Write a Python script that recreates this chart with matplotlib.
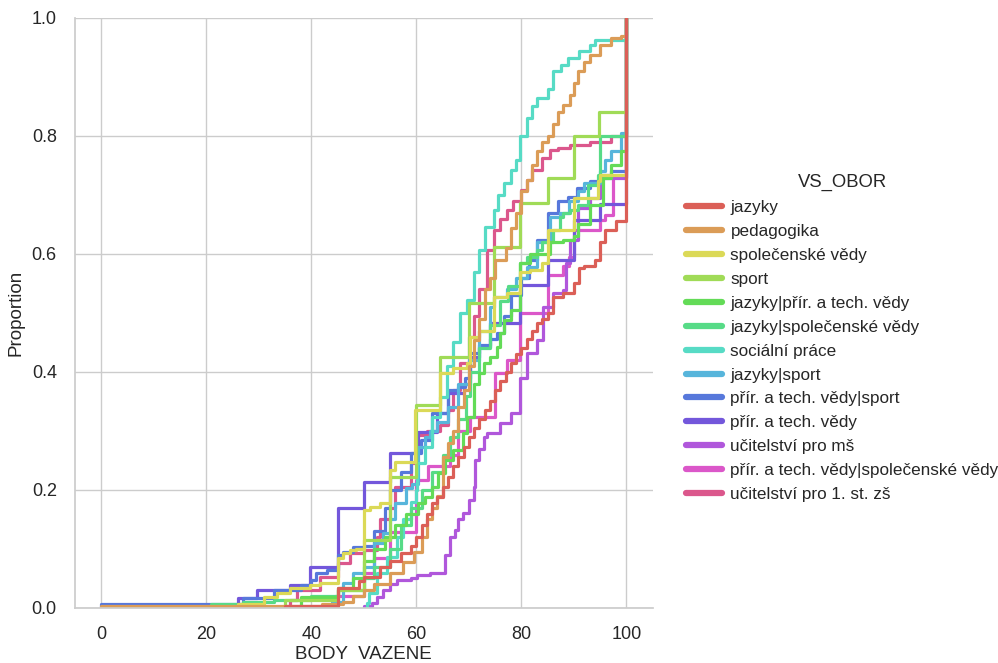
import numpy as np
import matplotlib
matplotlib.use("Agg")
import matplotlib.pyplot as plt
from matplotlib.lines import Line2D
import seaborn as sns

# ECDF step points: score -> cumulative proportion
obory = ['jazyky', 'pedagogika', 'společenské vědy', 'sport',
         'jazyky|přír. a tech. vědy', 'jazyky|společenské vědy',
         'sociální práce', 'jazyky|sport', 'přír. a tech. vědy|sport',
         'přír. a tech. vědy', 'učitelství pro mš',
         'přír. a tech. vědy|společenské vědy', 'učitelství pro 1. st. zš']
max_body = 100

jazyky_x = [35, 45, 49, 50, 53, 55, 57, 59, 60, 61, 62, 63, 64, 65, 66, 67, 68, 69, 70, 71,
            72, 73, 74, 75, 76, 77, 78, 79, 80, 81, 82, 83, 84, 85, 86, 88, 90, 91, 92, 94, 95, 96, 98]
jazyky_y = [0.003, 0.034, 0.045, 0.052, 0.07, 0.08, 0.093, 0.105, 0.12, 0.14, 0.16, 0.178, 0.188,
            0.205, 0.222, 0.24, 0.256, 0.272, 0.29, 0.305, 0.32, 0.335, 0.35, 0.37, 0.385, 0.40,
            0.415, 0.43, 0.44, 0.455, 0.47, 0.483, 0.49, 0.50, 0.527, 0.534, 0.55, 0.576, 0.58,
            0.59, 0.62, 0.64, 0.655]

pedagogika_x = [0, 42, 46, 48, 50, 52, 55, 57.5, 59.5, 61, 62, 63, 64, 65, 66, 67, 68, 69, 70, 71,
                72, 73, 74, 75, 77, 78, 79, 80, 81, 82, 83, 84, 85, 86, 87, 88, 89.3, 90, 90.7,
                92, 93, 95, 97, 99]
pedagogika_y = [0.003, 0.006, 0.01, 0.02, 0.03, 0.04, 0.06, 0.078, 0.095, 0.12, 0.15, 0.17, 0.19,
                0.256, 0.28, 0.30, 0.34, 0.37, 0.41, 0.454, 0.49, 0.54, 0.56, 0.59, 0.61, 0.644,
                0.67, 0.707, 0.725, 0.75, 0.775, 0.79, 0.80, 0.82, 0.84, 0.853, 0.87, 0.89, 0.91,
                0.925, 0.937, 0.954, 0.966, 0.97]

spol_x = [26, 31, 33.5, 36, 39.8, 41.7, 45, 46, 47.4, 48.6, 50, 51.2, 53, 55, 56, 59.8, 64.6, 67,
          69.7, 70.3, 72, 74.7, 77.3, 79.8, 81.7, 84, 85, 90, 94.5, 95]
spol_y = [0.007, 0.019, 0.025, 0.034, 0.039, 0.042, 0.085, 0.093, 0.098, 0.10, 0.166, 0.171, 0.178,
          0.234, 0.247, 0.336, 0.398, 0.407, 0.415, 0.459, 0.47, 0.527, 0.533, 0.57, 0.573, 0.585,
          0.64, 0.695, 0.724, 0.734]

sport_x = [35, 45, 50, 55, 60, 64.6, 70, 74.7, 79.8, 85, 90, 94.7]
sport_y = [0.013, 0.03, 0.115, 0.222, 0.344, 0.425, 0.516, 0.612, 0.686, 0.728, 0.80, 0.84]

jaz_prir_x = [38, 45, 48, 50, 52, 54, 56, 58, 60.4, 61.7, 63, 64.2, 65.5, 67, 68.8, 69.7, 71, 72,
              72.8, 74, 75.4, 76, 76.6, 78, 79.8, 81.7, 85.5, 88, 90, 90.7, 93, 95.6, 97, 98.9]
jaz_prir_y = [0.019, 0.034, 0.05, 0.08, 0.10, 0.12, 0.14, 0.16, 0.178, 0.188, 0.205, 0.229, 0.251,
              0.268, 0.297, 0.324, 0.38, 0.398, 0.415, 0.425, 0.442, 0.466, 0.488, 0.505, 0.585,
              0.60, 0.62, 0.624, 0.63, 0.65, 0.683, 0.729, 0.75, 0.775]

jaz_spol_x = [21, 27, 33, 40, 45, 50, 52, 55, 57, 59, 61, 63, 65, 66.5, 68, 69.5, 70.3, 72, 74, 76,
              77.5, 79.8, 81, 83, 84, 86, 87.4, 88, 89.3, 90.7, 92.6, 94.5, 95]
jaz_spol_y = [0.007, 0.01, 0.014, 0.02, 0.03, 0.05, 0.07, 0.10, 0.14, 0.17, 0.20, 0.23, 0.26, 0.29,
              0.32, 0.36, 0.40, 0.44, 0.48, 0.52, 0.545, 0.585, 0.595, 0.607, 0.62, 0.64, 0.663,
              0.67, 0.675, 0.683, 0.717, 0.734, 0.80]

soc_x = [50.6, 51, 52.5, 54.5, 56.4, 57.5, 59, 60, 60.2, 61.7, 63, 64.5, 65.9, 67, 68.4, 69.7, 71,
         72, 73, 74.7, 75.5, 76.6, 78, 79, 79.8, 81, 82, 83, 85, 86, 87.5, 88.8, 91, 93, 94]
soc_y = [0.008, 0.025, 0.06, 0.087, 0.12, 0.15, 0.18, 0.20, 0.245, 0.273, 0.324, 0.357, 0.41, 0.45,
         0.50, 0.522, 0.57, 0.607, 0.646, 0.674, 0.70, 0.72, 0.742, 0.76, 0.80, 0.83, 0.85, 0.864,
         0.88, 0.91, 0.92, 0.932, 0.944, 0.954, 0.963]

jaz_sport_x = [44, 46, 48, 50, 52, 53.7, 55, 56, 58, 59.2, 60.4, 61.7, 62.7, 64, 66, 68, 70, 72,
               74, 74.7, 77.3, 79, 81, 83, 85.5, 87.4, 89, 90.7, 92, 95, 96, 97, 98.9]
jaz_sport_y = [0.01, 0.042, 0.06, 0.07, 0.11, 0.127, 0.15, 0.178, 0.203, 0.21, 0.273, 0.29, 0.30,
               0.315, 0.34, 0.38, 0.42, 0.47, 0.51, 0.527, 0.54, 0.56, 0.578, 0.62, 0.663, 0.67,
               0.69, 0.707, 0.72, 0.74, 0.76, 0.775, 0.805]

prir_sport_x = [0, 27, 33, 38, 40, 41, 43, 45, 46, 48, 50, 52, 54, 55, 57, 59, 60.8, 63, 66, 68,
                69.3, 70.3, 72, 74, 75.4, 76.6, 78, 80, 81.5, 83, 85, 87, 88.8, 90.6, 93, 95, 97]
prir_sport_y = [0.007, 0.017, 0.03, 0.039, 0.047, 0.06, 0.064, 0.09, 0.095, 0.103, 0.105, 0.13,
                0.17, 0.20, 0.23, 0.262, 0.285, 0.33, 0.37, 0.375, 0.39, 0.432, 0.445, 0.455,
                0.466, 0.494, 0.53, 0.56, 0.59, 0.624, 0.669, 0.69, 0.697, 0.712, 0.723, 0.734, 0.74]

prir_x = [26, 29.7, 36, 39.8, 45, 50, 55, 60.4, 64, 66, 69, 70.3, 72, 74, 79.8, 85, 90, 95]
prir_y = [0.017, 0.03, 0.039, 0.07, 0.17, 0.213, 0.262, 0.298, 0.33, 0.364, 0.38, 0.425, 0.442,
          0.483, 0.547, 0.59, 0.657, 0.685]

ms_x = [50, 51.6, 52.5, 53.7, 55, 56.4, 59, 60.2, 62.7, 65.5, 66.5, 67.4, 68, 68.8, 70, 71, 71.2,
        72, 72.8, 73.5, 76, 78, 79.8, 81, 83, 84.2, 86, 88, 88.5, 89.3, 90.7, 93, 95]
ms_y = [0.004, 0.008, 0.019, 0.03, 0.04, 0.047, 0.051, 0.056, 0.06, 0.09, 0.12, 0.132, 0.15, 0.161,
        0.183, 0.205, 0.25, 0.27, 0.29, 0.297, 0.313, 0.33, 0.39, 0.432, 0.454, 0.51, 0.534,
        0.539, 0.585, 0.624, 0.678, 0.695, 0.729]

prir_spol_x = [44.6, 50, 52, 55, 60, 62.3, 66.5, 68, 70.3, 75, 77.3, 79.8, 85, 88, 89, 90, 95, 96, 97.5]
prir_spol_y = [0.02, 0.06, 0.085, 0.128, 0.217, 0.24, 0.26, 0.30, 0.324, 0.398, 0.42, 0.50, 0.564,
               0.58, 0.595, 0.64, 0.657, 0.666, 0.73]

zs_x = [36, 37.3, 41.7, 45, 47.4, 50, 52.6, 53, 55, 56, 59, 60, 62, 64.6, 66, 67, 68.4, 70, 71, 72,
        73.5, 74.7, 76, 77.3, 78.5, 80, 81, 82, 84, 85.5, 87, 89.3, 93, 97]
zs_y = [0.013, 0.03, 0.053, 0.076, 0.093, 0.098, 0.12, 0.15, 0.17, 0.205, 0.245, 0.293, 0.30, 0.31,
        0.336, 0.37, 0.415, 0.46, 0.494, 0.54, 0.607, 0.64, 0.66, 0.675, 0.69, 0.708, 0.725, 0.742,
        0.762, 0.776, 0.78, 0.785, 0.79, 0.80]

series = [(jazyky_x, jazyky_y), (pedagogika_x, pedagogika_y), (spol_x, spol_y),
          (sport_x, sport_y), (jaz_prir_x, jaz_prir_y), (jaz_spol_x, jaz_spol_y),
          (soc_x, soc_y), (jaz_sport_x, jaz_sport_y), (prir_sport_x, prir_sport_y),
          (prir_x, prir_y), (ms_x, ms_y), (prir_spol_x, prir_spol_y), (zs_x, zs_y)]

sns.set_theme(style="whitegrid")
plt.rcParams['font.family'] = ['Liberation Sans', 'DejaVu Sans']
colors = sns.color_palette("hls", len(obory))

fig = plt.figure(figsize=(9.98, 6.63), dpi=100)
ax = fig.add_axes([0.075, 0.083, 0.579, 0.89])

# seaborn draws hue levels in reverse, first level ends on top
for i in reversed(range(len(obory))):
    xs, ys = series[i]
    xx = np.r_[xs[0], xs, max_body]
    yy = np.r_[0, ys, 1.0]
    ax.plot(xx, yy, drawstyle='steps-post', color=colors[i], lw=2.3)

ax.set_xlim(-5, 105)
ax.set_ylim(0, 1)
ax.set_xticks(np.arange(0, 101, 20))
ax.set_yticks(np.arange(0, 1.01, 0.2))
ax.tick_params(labelsize=13, pad=7)
ax.set_xlabel('BODY  VAZENE', fontsize=13.5, labelpad=2)
ax.set_ylabel('Proportion', fontsize=13.5, labelpad=5)
sns.despine(ax=ax)

handles = [Line2D([], [], color=c, lw=4.5, solid_capstyle='round') for c in colors]
leg = fig.legend(handles, obory, title='VS_OBOR', loc='center left',
                 bbox_to_anchor=(0.672, 0.49), frameon=False, handlelength=2.1,
                 handletextpad=0.5, labelspacing=0.52, fontsize=12.3, title_fontsize=13.3)

fig.savefig('out.png', dpi=100)
